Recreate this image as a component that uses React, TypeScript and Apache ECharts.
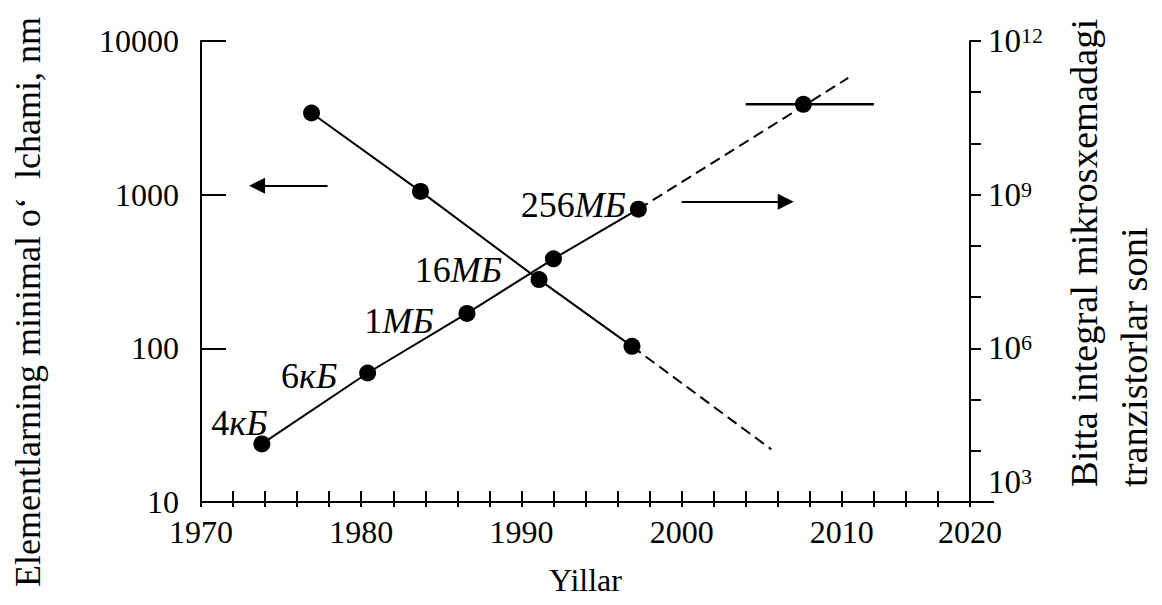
import React, { useEffect, useRef } from 'react';
import * as echarts from 'echarts';

const FONT = '"Liberation Serif", "Times New Roman", Times, serif';

// ---- data ----
const featureYears = [1976.9, 1983.7, 1991.1, 1996.9];
const featureNm = [3400, 1050, 280, 103];
const featureTrendYears = [1996.9, 2005.6];
const featureTrendNm = [103, 22];

const transistorYears = [1973.8, 1980.4, 1986.6, 1992.0, 1997.3];
const transistorCounts = [1.36e4, 3.3e5, 4.8e6, 5.6e7, 5.2e8];
const memoryNumbers = ['4', '6', '1', '16', '256'];
const memoryUnits = ['кБ', 'кБ', 'МБ', 'МБ', 'МБ'];
const transistorTrendYears = [1997.3, 2010.4];
const transistorTrendCounts = [5.2e8, 1.9e11];

const projectedYears = [2007.6];
const projectedCounts = [5.8e10];
const projectedRangeYears = [2004, 2012];

const leftArrowYears = [1977.9, 1973.5];
const leftArrowNm = 1144;
const rightArrowYears = [2000.0, 2006.5];
const rightArrowCounts = 7.3e8;

const xTickLabels = ['1970', '1980', '1990', '2000', '2010', '2020'];
const xMin = 1970;
const xMax = 2018;
const leftTickLabels = ['10', '100', '1000', '10000'];
const rightTitleLines = ['Bitta integral mikrosxemadagi', 'tranzistorlar soni'];
const leftTitle = 'Elementlarning minimal o‘  lchami, nm';
const xTitle = 'Yillar';

// label placement (style)
const labelOffsets: [number, number][] = [
  [14, -21],
  [-22, 3],
  [-25, 8],
  [-43, 11],
  [-4, -4],
];

function xLabel(v: number): string {
  if (v === xMax) return xTickLabels[xTickLabels.length - 1];
  const idx = Math.round((v - xMin) / 10);
  if (Math.abs(v - (xMin + idx * 10)) < 1e-6 && idx < xTickLabels.length - 1) return xTickLabels[idx];
  return '';
}

export default function App() {
  const ref = useRef<HTMLDivElement>(null);
  useEffect(() => {
    const chart = echarts.init(ref.current!, null, { renderer: 'svg' });
    const black = '#000';
    const arrowMark = (coords: [number, number][]) => ({
      silent: true,
      symbol: ['none', 'triangle'],
      symbolSize: 16,
      label: { show: false },
      lineStyle: { color: black, width: 2, type: 'solid' },
      itemStyle: { color: black },
      data: [[{ coord: coords[0] }, { coord: coords[1] }]],
    });
    const option: any = {
      animation: false,
      backgroundColor: '#fff',
      textStyle: { fontFamily: FONT, color: black },
      grid: { left: 201, right: 192, top: 41, bottom: 103, containLabel: false },
      xAxis: [
        {
          type: 'value',
          min: xMin,
          max: xMax,
          interval: 2,
          position: 'bottom',
          name: xTitle,
          nameLocation: 'middle',
          nameGap: 62,
          nameTextStyle: { fontFamily: FONT, fontSize: 32, color: black },
          axisLine: {
            show: true,
            lineStyle: { color: black, width: 2 },
            symbol: ['none', 'rect'],
            symbolSize: [2, 48],
          },
          axisTick: { show: true, inside: true, length: 11, lineStyle: { color: black, width: 2 } },
          axisLabel: {
            interval: 0,
            margin: 14,
            fontFamily: FONT,
            fontSize: 32,
            color: black,
            formatter: (v: number) => xLabel(v),
          },
          splitLine: { show: false },
        },
        {
          type: 'value',
          min: xMin,
          max: xMax,
          interval: 2,
          position: 'bottom',
          axisLine: { show: false },
          axisTick: { show: true, inside: false, length: 5, lineStyle: { color: black, width: 2 } },
          axisLabel: { show: false },
          splitLine: { show: false },
        },
      ],
      yAxis: [
        {
          type: 'log',
          logBase: 10,
          min: 10,
          max: 10000,
          position: 'left',
          axisLine: { show: true, lineStyle: { color: black, width: 2 } },
          axisTick: { show: true, inside: true, length: 25, lineStyle: { color: black, width: 2 } },
          minorTick: { show: false },
          axisLabel: {
            margin: 22,
            fontFamily: FONT,
            fontSize: 32,
            color: black,
            formatter: (v: number) => {
              const e = Math.round(Math.log10(v));
              return leftTickLabels[e - 1] ?? '';
            },
          },
          splitLine: { show: false },
        },
        {
          type: 'log',
          logBase: 10,
          min: 1e3,
          max: 1e12,
          splitNumber: 9,
          position: 'right',
          axisLine: { show: true, lineStyle: { color: black, width: 2 } },
          axisTick: { show: true, inside: false, length: 11, lineStyle: { color: black, width: 2 } },
          axisLabel: {
            margin: 18,
            fontFamily: FONT,
            color: black,
            formatter: (v: number) => {
              const e = Math.round(Math.log10(v));
              if (e % 3 !== 0) return '';
              if (e === 3) return `{b|10}{s|${e}}\n{g| }`;
              return `{b|10}{s|${e}}`;
            },
            rich: {
              b: { fontFamily: FONT, fontSize: 33, color: black },
              s: { fontFamily: FONT, fontSize: 22, color: black, verticalAlign: 'top' },
              g: { fontSize: 10, lineHeight: 40 },
            },
          },
          splitLine: { show: false },
        },
      ],
      series: [
        {
          name: 'feature',
          type: 'line',
          xAxisIndex: 0,
          yAxisIndex: 0,
          data: featureYears.map((y, i) => [y, featureNm[i]]),
          symbol: 'circle',
          symbolSize: 17,
          itemStyle: { color: black },
          lineStyle: { color: black, width: 2 },
          markLine: arrowMark([
            [leftArrowYears[0], leftArrowNm],
            [leftArrowYears[1], leftArrowNm],
          ]),
        },
        {
          name: 'featureTrend',
          type: 'line',
          xAxisIndex: 0,
          yAxisIndex: 0,
          data: featureTrendYears.map((y, i) => [y, featureTrendNm[i]]),
          symbol: 'none',
          lineStyle: { color: black, width: 2, type: [11, 6] },
        },
        {
          name: 'transistors',
          type: 'line',
          xAxisIndex: 0,
          yAxisIndex: 1,
          data: transistorYears.map((y, i) => ({
            value: [y, transistorCounts[i]],
            label: {
              show: true,
              position: 'left',
              distance: 0,
              offset: labelOffsets[i],
              formatter: `{n|${memoryNumbers[i]}}{u|${memoryUnits[i]}}`,
              rich: {
                n: { fontFamily: FONT, fontSize: 36, color: black },
                u: { fontFamily: FONT, fontSize: 36, color: black, fontStyle: 'italic' },
              },
            },
          })),
          symbol: 'circle',
          symbolSize: 17,
          itemStyle: { color: black },
          lineStyle: { color: black, width: 2 },
          markLine: arrowMark([
            [rightArrowYears[0], rightArrowCounts],
            [rightArrowYears[1], rightArrowCounts],
          ]),
        },
        {
          name: 'transistorTrend',
          type: 'line',
          xAxisIndex: 0,
          yAxisIndex: 1,
          data: transistorTrendYears.map((y, i) => [y, transistorTrendCounts[i]]),
          symbol: 'none',
          lineStyle: { color: black, width: 2, type: [11, 6] },
        },
        {
          name: 'projectedRange',
          type: 'line',
          xAxisIndex: 0,
          yAxisIndex: 1,
          data: projectedRangeYears.map((y) => [y, projectedCounts[0]]),
          symbol: 'none',
          lineStyle: { color: black, width: 2.5 },
        },
        {
          name: 'projected',
          type: 'scatter',
          xAxisIndex: 0,
          yAxisIndex: 1,
          data: projectedYears.map((y, i) => [y, projectedCounts[i]]),
          symbol: 'circle',
          symbolSize: 17,
          itemStyle: { color: black, opacity: 1 },
          z: 5,
        },
      ],
      graphic: [
        {
          type: 'text',
          x: 28,
          y: 302,
          rotation: Math.PI / 2,
          style: {
            text: leftTitle,
            font: `36px ${FONT}`,
            fill: black,
            textAlign: 'center',
            textVerticalAlign: 'middle',
          },
        },
        {
          type: 'text',
          x: 1084,
          y: 487,
          rotation: Math.PI / 2,
          style: {
            text: rightTitleLines[0],
            font: `38.5px ${FONT}`,
            fill: black,
            textAlign: 'left',
            textVerticalAlign: 'middle',
          },
        },
        {
          type: 'text',
          x: 1134,
          y: 487,
          rotation: Math.PI / 2,
          style: {
            text: rightTitleLines[1],
            font: `38.5px ${FONT}`,
            fill: black,
            textAlign: 'left',
            textVerticalAlign: 'middle',
          },
        },
      ],
    };
    chart.setOption(option);
    return () => chart.dispose();
  }, []);
  return (
    <div
      ref={ref}
      style={{ position: 'absolute', left: 0, top: 0, width: 1162, height: 605 }}
    />
  );
}
